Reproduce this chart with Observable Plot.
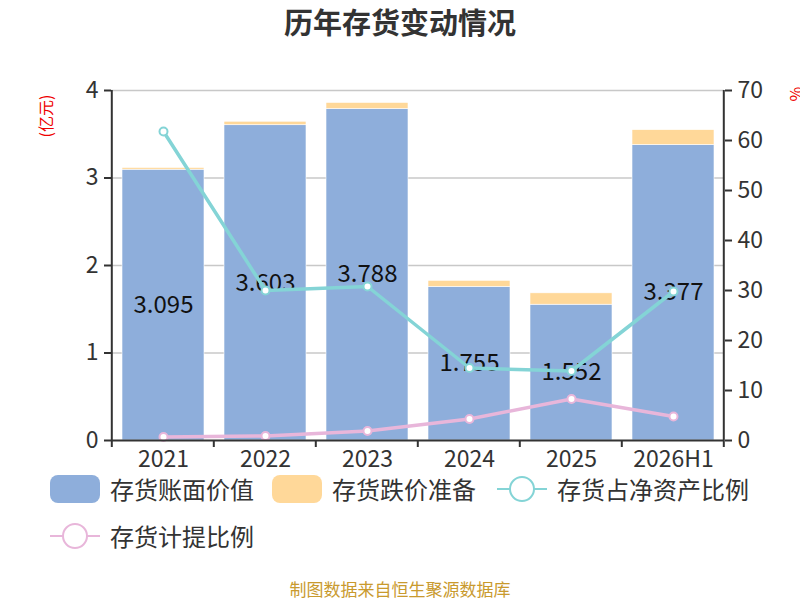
<!DOCTYPE html>
<html><head><meta charset="utf-8">
<script src="https://cdn.jsdelivr.net/npm/d3@7"></script>
<script src="https://cdn.jsdelivr.net/npm/@observablehq/plot@0.6"></script>
<style>
body{margin:0;background:#fff;font-family:"Noto Sans CJK SC","Noto Sans",sans-serif;}
#wrap{position:relative;width:800px;height:600px;overflow:hidden;}
#title{position:absolute;top:0px;left:0;width:800px;text-align:center;font-size:29px;font-weight:bold;color:#333;}
#chart{position:absolute;top:0;left:0;}
.ylab{position:absolute;color:#e00;font-size:16px;transform:rotate(-90deg);transform-origin:center;white-space:nowrap;}
#legend{position:absolute;top:470px;left:50px;width:750px;font-size:24px;color:#333;}
.item{position:absolute;display:flex;align-items:center;height:38px;white-space:nowrap;line-height:1;}
.item span{margin-left:10px;}
#caption{position:absolute;top:576px;left:0;width:800px;text-align:center;font-size:17px;color:#c99a2e;}
</style></head>
<body><div id="wrap">
<div id="title">历年存货变动情况</div>
<div id="chart"></div>
<div class="ylab" style="left:24px;top:104px;">(亿元)</div>
<div class="ylab" style="left:788px;top:82px;">%</div>
<div id="legend"></div>
<div id="caption">制图数据来自恒生聚源数据库</div>
</div>
<script>
const years = ["2021","2022","2023","2024","2025","2026H1"];
const bookValue = [3.095, 3.603, 3.788, 1.755, 1.552, 3.377];
const impairment = [0.02, 0.04, 0.07, 0.07, 0.13, 0.17];
const invToNetAssets = [61.8, 30.0, 30.8, 14.5, 13.9, 29.8];
const provisionRatio = [0.7, 0.9, 1.9, 4.3, 8.3, 4.8];
const leftTicks = [0,1,2,3,4];
const rightTicks = [0,10,20,30,40,50,60,70];

const cBlue = "#8eaedb", cOrange = "#ffd899", cTeal = "#84d4d6", cPink = "#e8b6da";
const k = 4/70;

const bars = [];
years.forEach((y,i)=>{
  bars.push({year:y, series:"存货账面价值", v:bookValue[i]});
  bars.push({year:y, series:"存货跌价准备", v:impairment[i]});
});
const labels = years.map((y,i)=>({year:y, v:bookValue[i]}));
const l1 = years.map((y,i)=>({year:y, v:invToNetAssets[i]*k}));
const l2 = years.map((y,i)=>({year:y, v:provisionRatio[i]*k}));

const plot = Plot.plot({
  width:800, height:480,
  marginTop:90, marginBottom:40, marginLeft:111, marginRight:76,
  style:{fontSize:"23px", color:"#333", fontFamily:"'Noto Sans CJK SC','Noto Sans',sans-serif", background:"transparent"},
  x:{domain:years, paddingInner:0.2, paddingOuter:0.1, label:null},
  y:{domain:[0,4], label:null},
  color:{domain:["存货账面价值","存货跌价准备"], range:[cBlue,cOrange]},
  marks:[
    Plot.gridY(leftTicks.slice(1), {stroke:"#c8c8c8", strokeOpacity:1, strokeWidth:1.5}),
    Plot.barY(bars, {x:"year", y:"v", fill:"series", stroke:"#fff", strokeWidth:0.6, order:["存货账面价值","存货跌价准备"]}),
    Plot.text(labels, {x:"year", y:d=>d.v/2, text:d=>d.v.toFixed(3), fontSize:24, fill:"#111"}),
    Plot.line(l1, {x:"year", y:"v", stroke:cTeal, strokeWidth:3.5}),
    Plot.dot(l1, {x:"year", y:"v", r:4, fill:"#fff", stroke:cTeal, strokeWidth:2}),
    Plot.line(l2, {x:"year", y:"v", stroke:cPink, strokeWidth:3.5}),
    Plot.dot(l2, {x:"year", y:"v", r:4, fill:"#fff", stroke:cPink, strokeWidth:2}),
    Plot.axisY({anchor:"left", ticks:leftTicks, tickFormat:d=>String(d), tickSize:7, tickPadding:6, label:null, fontSize:23, stroke:"#333", strokeWidth:2}),
    Plot.axisY({anchor:"right", ticks:rightTicks.map(v=>v*k), tickFormat:d=>Math.round(d/k), tickSize:7, tickPadding:6, label:null, fontSize:23, stroke:"#333", strokeWidth:2}),
    Plot.axisX({tickSize:0, tickPadding:10, label:null, fontSize:23}),
    Plot.ruleY([0], {stroke:"#333", strokeWidth:2})
  ]
});
document.getElementById("chart").appendChild(plot);

// axis lines and band boundary ticks drawn through scales
const svg = d3.select(plot);
const xs = plot.scale("x"), ys = plot.scale("y");
const step = xs.step;
const x0 = xs.apply(years[0]) - step*xs.paddingOuter, xEnd = x0 + step*years.length;
const yTop = ys.apply(4), yBot = ys.apply(0);
svg.append("line").attr("x1",x0).attr("x2",x0).attr("y1",yTop).attr("y2",yBot).attr("stroke","#333").attr("stroke-width",2);
svg.append("line").attr("x1",xEnd).attr("x2",xEnd).attr("y1",yTop).attr("y2",yBot).attr("stroke","#333").attr("stroke-width",2);
for(let i=0;i<=years.length;i++){
  const xx = x0 + i*step;
  svg.append("line").attr("x1",xx).attr("x2",xx).attr("y1",yBot).attr("y2",yBot+7).attr("stroke","#333").attr("stroke-width",2);
}

// legend
const leg = document.getElementById("legend");
function rectItem(left, top, color, text){
  return `<div class="item" style="left:${left}px;top:${top}px"><div style="width:50px;height:28px;border-radius:8px;background:${color}"></div><span>${text}</span></div>`;
}
function lineItem(left, top, color, text){
  return `<div class="item" style="left:${left}px;top:${top}px"><svg width="50" height="30"><line x1="0" x2="50" y1="15" y2="15" stroke="${color}" stroke-width="2"/><circle cx="25" cy="15" r="12" fill="#fff" stroke="${color}" stroke-width="2"/></svg><span>${text}</span></div>`;
}
leg.innerHTML = rectItem(0,0,cBlue,"存货账面价值") + rectItem(222,0,cOrange,"存货跌价准备") +
  lineItem(447,0,cTeal,"存货占净资产比例") + lineItem(0,47,cPink,"存货计提比例");
</script>
</body></html>
